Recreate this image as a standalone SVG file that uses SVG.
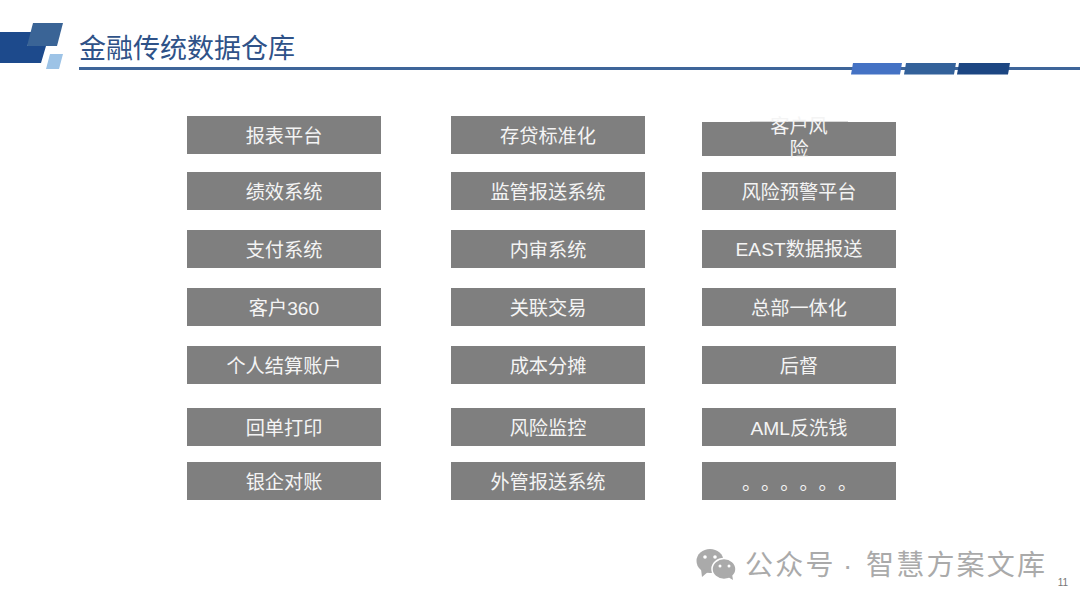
<svg xmlns="http://www.w3.org/2000/svg" width="1080" height="608" viewBox="0 0 1080 608">
<style>
.cjk{font-family:"Noto Sans CJK SC","Liberation Sans",sans-serif}
.box rect{fill:#7f7f7f}
.box text{font-size:19.2px;fill:#f4f4f4;text-anchor:middle;font-family:"Liberation Sans","Noto Sans CJK SC",sans-serif}
.wm{font-size:28px;letter-spacing:2.2px;fill:#aaa}
</style>
<rect width="1080" height="608" fill="#fff"/>
<g id="header">
<polygon points="0,32 36,32 27,46 46,46 41,63 0,63" fill="#1d4a8c"/>
<polygon points="33,23 63,23 57,46 27,46" fill="#3a6496"/>
<polygon points="50,54 63,54 59,69 46,69" fill="#9dc3e6"/>
<text x="79" y="58" class="cjk" font-size="27" fill="#2f5288">金融传统数据仓库</text>
<rect x="79" y="67" width="1001" height="3" fill="#3e6599"/>
<polygon points="853,63 902,63 900,74.500 851,74.500" fill="#4472c4"/>
<polygon points="906,63 956,63 954,74.500 904,74.500" fill="#33619a"/>
<polygon points="959,63 1010,63 1008,74.500 957,74.500" fill="#1c4682"/>
</g>
<g id="n1" class="box"><rect x="187" y="116" width="194" height="38"/><text x="284" y="142.500">报表平台</text></g>
<g id="n2" class="box"><rect x="451" y="116" width="194" height="38"/><text x="548" y="142.500">存贷标准化</text></g>
<g id="n3" class="box"><rect x="702" y="122" width="194" height="34"/><rect x="750" y="121" width="98" height="1" style="fill:#d8d8d8"/><text x="799" y="133">客户风<tspan x="799" dy="23">险</tspan></text></g>
<g id="n4" class="box"><rect x="187" y="172" width="194" height="38"/><text x="284" y="198.500">绩效系统</text></g>
<g id="n5" class="box"><rect x="451" y="172" width="194" height="38"/><text x="548" y="198.500">监管报送系统</text></g>
<g id="n6" class="box"><rect x="702" y="172" width="194" height="38"/><text x="799" y="198.500">风险预警平台</text></g>
<g id="n7" class="box"><rect x="187" y="230" width="194" height="38"/><text x="284" y="256.500">支付系统</text></g>
<g id="n8" class="box"><rect x="451" y="230" width="194" height="38"/><text x="548" y="256.500">内审系统</text></g>
<g id="n9" class="box"><rect x="702" y="230" width="194" height="38"/><text x="799" y="256">EAST数据报送</text></g>
<g id="n10" class="box"><rect x="187" y="288" width="194" height="38"/><text x="284" y="314.500">客户360</text></g>
<g id="n11" class="box"><rect x="451" y="288" width="194" height="38"/><text x="548" y="314.500">关联交易</text></g>
<g id="n12" class="box"><rect x="702" y="288" width="194" height="38"/><text x="799" y="314.500">总部一体化</text></g>
<g id="n13" class="box"><rect x="187" y="346" width="194" height="38"/><text x="284" y="372.500">个人结算账户</text></g>
<g id="n14" class="box"><rect x="451" y="346" width="194" height="38"/><text x="548" y="372.500">成本分摊</text></g>
<g id="n15" class="box"><rect x="702" y="346" width="194" height="38"/><text x="799" y="372.500">后督</text></g>
<g id="n16" class="box"><rect x="187" y="408" width="194" height="38"/><text x="284" y="434.500">回单打印</text></g>
<g id="n17" class="box"><rect x="451" y="408" width="194" height="38"/><text x="548" y="434.500">风险监控</text></g>
<g id="n18" class="box"><rect x="702" y="408" width="194" height="38"/><text x="799" y="434.500">AML反洗钱</text></g>
<g id="n19" class="box"><rect x="187" y="462" width="194" height="38"/><text x="284" y="488.500">银企对账</text></g>
<g id="n20" class="box"><rect x="451" y="462" width="194" height="38"/><text x="548" y="488.500">外管报送系统</text></g>
<g id="n21" class="box"><rect x="702" y="462" width="194" height="38"/><text x="742 761 780.200 799.400 818.600 838" y="490" style="text-anchor:start">。。。。。。</text></g>
<g id="connectors"></g>
<g id="watermark">
<ellipse cx="710" cy="561" rx="13.500" ry="12" fill="#aaa"/>
<polygon points="701,569 702,577 709,571" fill="#aaa"/>
<ellipse cx="724" cy="569" rx="12" ry="10.500" stroke="#fff" stroke-width="1.500" fill="#aaa"/>
<polygon points="728,577 733,580 732,574" fill="#aaa"/>
<circle cx="705" cy="557" r="1.800" fill="#fff"/><circle cx="715" cy="557" r="1.800" fill="#fff"/>
<circle cx="720" cy="566" r="1.500" fill="#fff"/><circle cx="729" cy="566" r="1.500" fill="#fff"/>
<text x="745" y="575" class="cjk wm">公众号</text>
<text x="843" y="575" class="wm" font-family="Liberation Sans,sans-serif">·</text>
<text x="866" y="575" class="cjk wm">智慧方案文库</text>
</g>
<text id="page" x="1063" y="586" font-family="Liberation Sans,sans-serif" font-size="10" fill="#777" text-anchor="middle">11</text>
</svg>
